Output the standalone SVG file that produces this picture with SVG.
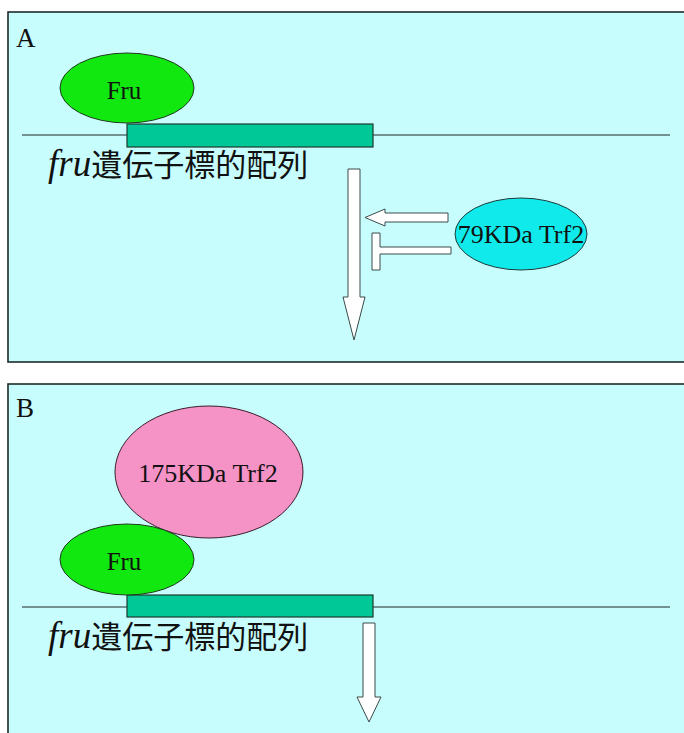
<svg xmlns="http://www.w3.org/2000/svg" width="684" height="733" viewBox="0 0 684 733">
  <style>
    .panel { fill: #c8fdfd; stroke: #1e2a2a; stroke-width: 1.6; }
    .dna { stroke: #1e2a2a; stroke-width: 1.2; fill: none; }
    .site { fill: #00c896; stroke: #1e3a30; stroke-width: 1.2; }
    .fru { fill: #10e810; stroke: #1e3a1e; stroke-width: 1; }
    .trf79 { fill: #10eaea; stroke: #1e3a3a; stroke-width: 1; }
    .trf175 { fill: #f592c6; stroke: #3a1e2a; stroke-width: 1; }
    .lbl { font-family: "Liberation Serif", "Times New Roman", serif; fill: #111; }
    .panel-lbl { font-family: "Liberation Serif", "Times New Roman", serif; font-size: 27px; fill: #111; }
    .gene { font-family: "Noto Sans CJK JP", "Noto Sans CJK SC", sans-serif; font-size: 31px; fill: #111; }
    .gene-it { font-family: "Liberation Serif", "Times New Roman", serif; font-style: italic; font-size: 37px; }
    .arrow { fill: #ffffff; stroke: #3a4a4a; stroke-width: 1; }
  </style>

  <!-- Panel A -->
  <rect class="panel" x="8" y="12" width="690" height="350"/>
  <text class="panel-lbl" x="16" y="47">A</text>
  <line class="dna" x1="22" y1="135" x2="670" y2="135"/>

  <g id="siteA">
    <rect class="site" x="127" y="124" width="246" height="23"/>
    <text class="gene" x="48" y="176"><tspan class="gene-it">fru</tspan>遺伝子標的配列</text>
  </g>

  <g id="fruA">
    <ellipse class="fru" cx="127" cy="88" rx="67" ry="35"/>
    <text class="lbl" x="124" y="99" font-size="25" text-anchor="middle">Fru</text>
  </g>

  <g id="trf79">
    <ellipse class="trf79" cx="521" cy="234" rx="66" ry="36"/>
    <text class="lbl" x="521" y="243" font-size="26" text-anchor="middle">79KDa Trf2</text>
  </g>

  <g id="connectorsA">
    <!-- transcription output -->
    <polygon class="arrow" points="348,169 360,169 360,297 365,297 354,340 343,297 348,297"/>
    <!-- activation -->
    <polygon class="arrow" points="448,213 448,222 385,222 385,226 365,217.5 385,209 385,213"/>
    <!-- repression -->
    <polygon class="arrow" points="451,247 451,254 380,254 380,270 372,270 372,233 380,233 380,247"/>
  </g>

  <!-- Panel B -->
  <rect class="panel" x="8" y="384" width="690" height="360"/>
  <text class="panel-lbl" x="16" y="417">B</text>
  <line class="dna" x1="22" y1="607" x2="670" y2="607"/>

  <g id="siteB">
    <rect class="site" x="127" y="595" width="246" height="22"/>
    <text class="gene" x="48" y="648"><tspan class="gene-it">fru</tspan>遺伝子標的配列</text>
  </g>

  <g id="trf175">
    <ellipse class="trf175" cx="209" cy="472" rx="94" ry="66"/>
    <text class="lbl" x="208" y="482" font-size="26" text-anchor="middle">175KDa Trf2</text>
  </g>

  <g id="fruB">
    <ellipse class="fru" cx="127" cy="559.5" rx="67" ry="35.5"/>
    <text class="lbl" x="124" y="570" font-size="25" text-anchor="middle">Fru</text>
  </g>

  <g id="connectorsB">
    <polygon class="arrow" points="363,623 375,623 375,697 381,697 369,722 357,697 363,697"/>
  </g>
</svg>
